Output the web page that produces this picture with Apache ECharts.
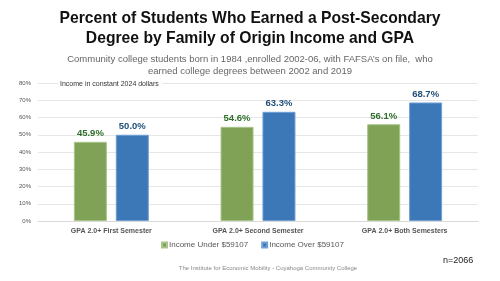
<!DOCTYPE html>
<html>
<head>
<meta charset="utf-8">
<script src="https://cdn.jsdelivr.net/npm/echarts@6/dist/echarts.min.js"></script>
<style>
  html, body { margin: 0; padding: 0; background: #fff; }
  #chart { width: 500px; height: 281px; }
</style>
</head>
<body>
<div id="chart"></div>
<script>
var categories = ['GPA 2.0+ First Semester', 'GPA 2.0+ Second Semester', 'GPA 2.0+ Both Semesters'];
var underIncome = [45.9, 54.6, 56.1];
var overIncome = [50.0, 63.3, 68.7];
var seriesNames = ['Income Under $59107', 'Income Over $59107'];

var chart = echarts.init(document.getElementById('chart'));
var font = 'Liberation Sans, Arial, sans-serif';

var option = {
    animation: false,
    textStyle: { fontFamily: font },
    graphic: [
        {
            type: 'text', x: 250, y: 9,
            style: {
                text: 'Percent of Students Who Earned a Post-Secondary\nDegree by Family of Origin Income and GPA',
                align: 'center', verticalAlign: 'top',
                font: 'bold 15.7px ' + font, lineHeight: 19.5, fill: '#111'
            }
        },
        {
            type: 'text', x: 250, y: 53,
            style: {
                text: 'Community college students born in 1984 ,enrolled 2002-06, with FAFSA\u2019s on file,  who\nearned college degrees between 2002 and 2019',
                align: 'center', verticalAlign: 'top',
                font: '9.5px ' + font, lineHeight: 12, fill: '#666'
            }
        },
        {
            type: 'text', x: 58, y: 84, z: 10,
            style: {
                text: 'Income in constant 2024 dollars', font: '7px ' + font, fill: '#333',
                verticalAlign: 'middle', backgroundColor: '#fff', padding: [1, 3, 1, 2]
            }
        },
        {
            type: 'text', x: 443, y: 256,
            style: { text: 'n=2066', font: '9px ' + font, fill: '#222' }
        },
        {
            type: 'text', x: 268, y: 265,
            style: {
                text: 'The Institute for Economic Mobility - Cuyahoga Community College',
                align: 'center', font: '6px ' + font, fill: '#888'
            }
        }
    ],
    legend: {
        data: seriesNames,
        top: 236,
        left: 156,
        itemWidth: 5,
        itemHeight: 5,
        itemGap: 13,
        icon: 'rect',
        textStyle: { fontSize: 8, color: '#595959', fontFamily: font, padding: [0, 0, 0, -3] }
    },
    grid: { left: 38, right: 22, top: 83, bottom: 60 },
    xAxis: {
        type: 'category',
        data: categories,
        axisTick: { show: false },
        axisLine: { lineStyle: { color: '#d9d9d9' } },
        axisLabel: { fontSize: 7, color: '#555', fontWeight: 'bold', margin: 7 }
    },
    yAxis: {
        type: 'value',
        min: 0,
        max: 80,
        interval: 10,
        axisLabel: { formatter: '{value}%', fontSize: 6, color: '#555', margin: 7 },
        splitLine: { lineStyle: { color: '#e6e6e6' } }
    },
    series: [
        {
            name: seriesNames[0],
            type: 'bar',
            data: underIncome,
            barWidth: 33,
            barGap: '27%',
            itemStyle: { color: '#7fa257', borderColor: '#a9c48a', borderWidth: 1 },
            label: {
                show: true, position: 'top', formatter: function (p) { return p.value.toFixed(1) + '%'; },
                fontSize: 9.5, fontWeight: 'bold', color: '#2f6e2a', distance: 3
            }
        },
        {
            name: seriesNames[1],
            type: 'bar',
            data: overIncome,
            barWidth: 33,
            barGap: '27%',
            itemStyle: { color: '#3c77b8', borderColor: '#6f9fd3', borderWidth: 1 },
            label: {
                show: true, position: 'top', formatter: function (p) { return p.value.toFixed(1) + '%'; },
                fontSize: 9.5, fontWeight: 'bold', color: '#1f4e79', distance: 3
            }
        }
    ]
};

option && chart.setOption(option);
</script>
</body>
</html>
